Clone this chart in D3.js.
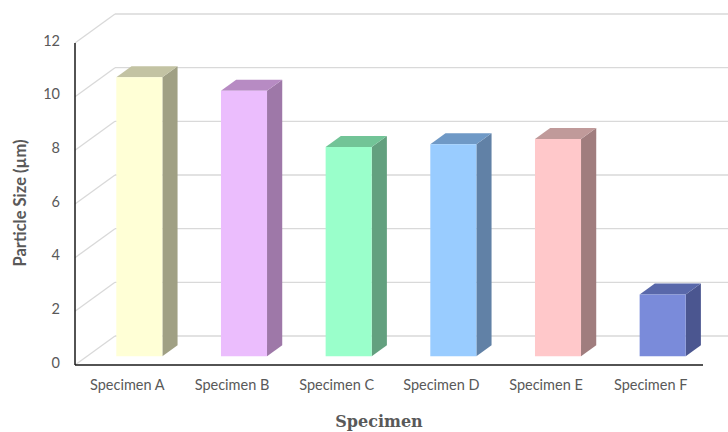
<!DOCTYPE html>
<html>
<head>
<meta charset="utf-8">
<script src="https://cdn.jsdelivr.net/npm/d3@7"></script>
<style>
  html, body { margin: 0; padding: 0; background: #ffffff; }
  svg { display: block; }
</style>
</head>
<body>
<svg id="chart" width="728" height="432"></svg>
<script>
// Particle size per specimen
const categories = ["Specimen A", "Specimen B", "Specimen C", "Specimen D", "Specimen E", "Specimen F"];
const particleSize = [10.4, 9.9, 7.8, 7.9, 8.1, 2.3];
const yTicks = [0, 2, 4, 6, 8, 10, 12];

// Face colours of each column: front, top, side
const frontColors = ["#FFFFD6", "#EBBDFD", "#9AFFCB", "#99CCFF", "#FFC8CA", "#7A8BDA"];
const topColors   = ["#C3C3A3", "#B78BC3", "#72C497", "#6F99C6", "#C09A9A", "#5968AA"];
const sideColors  = ["#A0A084", "#9E78A8", "#63A07F", "#6181A6", "#A07D7E", "#4B5690"];

const svg = d3.select("#chart");
const W = 728, H = 432;

// Front plane of the plot and the depth offset of the back wall
const plotLeft = 75, plotRight = 703, plotBottom = 365, plotTop = 43;
const DX = 40, DY = -29;
const z0 = 0.3, z1 = 0.68;   // depth span occupied by the columns

const x = d3.scaleBand().domain(categories).range([plotLeft, plotRight])
  .paddingInner(0.56).paddingOuter(0.28);
const y = d3.scaleLinear().domain([0, 12]).range([plotBottom, plotTop]);

// project a (x, value, depth) point onto the screen
const P = (px, v, z) => [px + z * DX, y(v) + z * DY];
const poly = pts => pts.map(p => p.join(",")).join(" ");

svg.append("defs").append("clipPath").attr("id", "clipAll")
  .append("rect").attr("x", 0).attr("y", 0).attr("width", W).attr("height", H);

const grid = svg.append("g").attr("clip-path", "url(#clipAll)");
const gridColor = "#d9d9d9";

// back-wall gridlines
grid.selectAll("line.back").data(yTicks).join("line")
  .attr("class", "back")
  .attr("x1", plotLeft + DX).attr("x2", plotRight + DX)
  .attr("y1", d => y(d) + DY).attr("y2", d => y(d) + DY)
  .attr("stroke", gridColor).attr("stroke-width", 1.3);

// side-wall gridlines
grid.selectAll("line.side").data(yTicks).join("line")
  .attr("class", "side")
  .attr("x1", plotLeft).attr("x2", plotLeft + DX)
  .attr("y1", d => y(d)).attr("y2", d => y(d) + DY)
  .attr("stroke", gridColor).attr("stroke-width", 1.3);

// columns
const data = categories.map((c, i) => ({ c, v: particleSize[i], i }));
const bars = svg.append("g").selectAll("g").data(data).join("g");

bars.append("polygon")
  .attr("points", d => {
    const x1 = x(d.c) + x.bandwidth();
    return poly([P(x1, 0, z0), P(x1, d.v, z0), P(x1, d.v, z1), P(x1, 0, z1)]);
  })
  .attr("fill", d => sideColors[d.i]);

bars.append("polygon")
  .attr("points", d => {
    const x0 = x(d.c), x1 = x0 + x.bandwidth();
    return poly([P(x0, d.v, z0), P(x1, d.v, z0), P(x1, d.v, z1), P(x0, d.v, z1)]);
  })
  .attr("fill", d => topColors[d.i]);

bars.append("polygon")
  .attr("points", d => {
    const x0 = x(d.c), x1 = x0 + x.bandwidth();
    return poly([P(x0, 0, z0), P(x1, 0, z0), P(x1, d.v, z0), P(x0, d.v, z0)]);
  })
  .attr("fill", d => frontColors[d.i]);

// axis lines
const axisColor = "#1a1a1a";
svg.append("line").attr("x1", plotLeft).attr("x2", plotLeft).attr("y1", plotTop).attr("y2", plotBottom)
  .attr("stroke", axisColor).attr("stroke-width", 1.5);
svg.append("line").attr("x1", plotLeft).attr("x2", plotRight).attr("y1", plotBottom).attr("y2", plotBottom)
  .attr("stroke", axisColor).attr("stroke-width", 1.5);

const textColor = "#595959";
const sans = "Lato, 'Open Sans', sans-serif";

// y tick labels
svg.append("g").selectAll("text").data(yTicks).join("text")
  .attr("x", 60).attr("y", d => y(d) - 1)
  .attr("text-anchor", "end").attr("dominant-baseline", "middle")
  .attr("font-family", sans).attr("font-size", 14.5).attr("fill", textColor)
  .text(d => d);

// category labels
svg.append("g").selectAll("text").data(categories).join("text")
  .attr("x", d => x(d) + x.bandwidth() / 2)
  .attr("y", 390)
  .attr("text-anchor", "middle")
  .attr("font-family", sans).attr("font-size", 14.5).attr("fill", textColor)
  .text(d => d);

// axis titles
svg.append("text")
  .attr("transform", "translate(26,203) rotate(-90)")
  .attr("text-anchor", "middle")
  .attr("font-family", sans).attr("font-weight", "bold").attr("font-size", 16.5)
  .attr("fill", textColor)
  .text("Particle Size (µm)");

svg.append("text")
  .attr("x", 379).attr("y", 427)
  .attr("text-anchor", "middle")
  .attr("font-family", "'DejaVu Serif', serif").attr("font-weight", "bold").attr("font-size", 16)
  .attr("fill", textColor)
  .text("Specimen");
</script>
</body>
</html>
